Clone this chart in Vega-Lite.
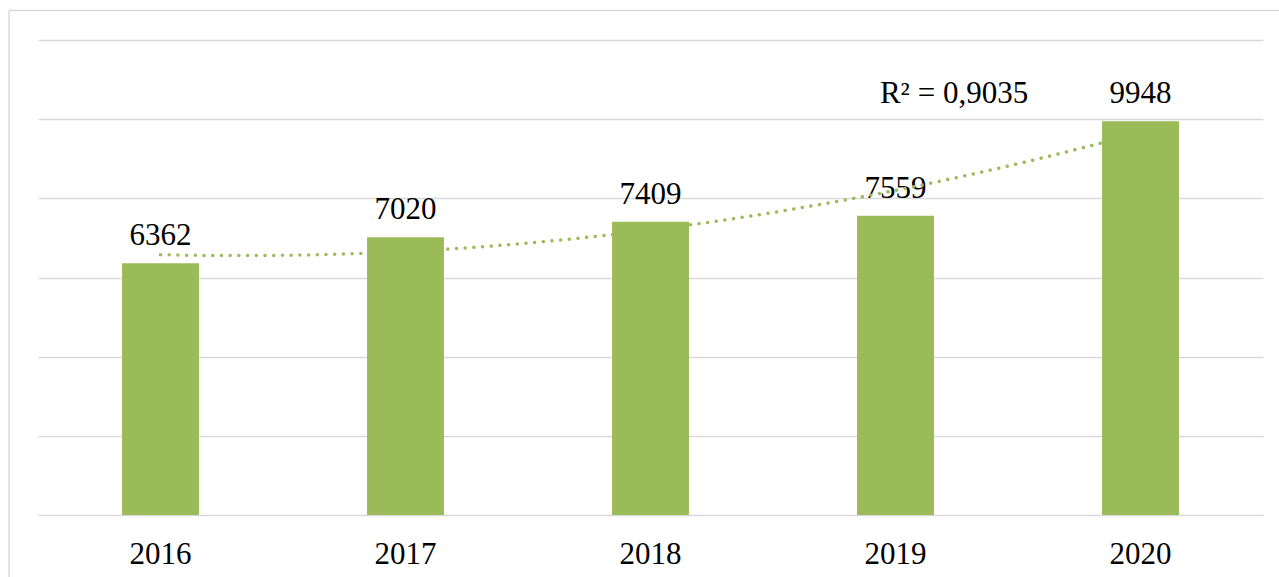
{
  "$schema": "https://vega.github.io/schema/vega-lite/v6.json",
  "width": 1225,
  "height": 475,
  "autosize": {"type": "none"},
  "padding": {"left": 38, "top": 40, "right": 16, "bottom": 62},
  "background": "white",
  "config": {
    "view": {"stroke": null},
    "font": "Liberation Serif"
  },
  "data": {
    "values": [
      {"year": 2016, "value": 6362},
      {"year": 2017, "value": 7020},
      {"year": 2018, "value": 7409},
      {"year": 2019, "value": 7559},
      {"year": 2020, "value": 9948}
    ]
  },
  "layer": [
    {
      "encoding": {
        "x": {
          "field": "year", "type": "ordinal",
          "scale": {"paddingInner": 0.686, "paddingOuter": 0.343},
          "axis": {
            "title": null, "ticks": false, "tickSize": 0, "domain": false,
            "labelFont": "Liberation Serif", "labelFontSize": 31, "labelColor": "#000000",
            "labelBaseline": "alphabetic", "labelPadding": 48, "labelAngle": 0
          }
        },
        "y": {
          "field": "value", "type": "quantitative",
          "scale": {"domain": [0, 12000], "nice": false},
          "axis": {
            "title": null, "labels": false, "ticks": false, "domain": false,
            "values": [0, 2000, 4000, 6000, 8000, 10000, 12000],
            "grid": true, "gridColor": "#D9D9D9", "gridWidth": 1.7
          }
        }
      },
      "layer": [
        {"mark": {"type": "bar", "color": "#9BBB59"}},
        {
          "mark": {"type": "text", "font": "Liberation Serif", "fontSize": 31, "color": "#000000", "baseline": "alphabetic", "align": "center", "dy": -18},
          "encoding": {
            "text": {"field": "value", "type": "quantitative", "format": "d"}
          }
        }
      ]
    },
    {
      "transform": [
        {"regression": "value", "on": "year", "method": "poly", "order": 2}
      ],
      "mark": {"type": "line", "color": "#9BBB59", "strokeWidth": 3.5, "strokeCap": "round", "strokeDash": [0.01, 8.7]},
      "encoding": {
        "x": {"field": "year", "type": "quantitative", "scale": {"domain": [2015.5, 2020.5], "nice": false, "zero": false}, "axis": null},
        "y": {"field": "value", "type": "quantitative"}
      }
    },
    {
      "data": {"values": [{"label": "R² = 0,9035"}]},
      "mark": {"type": "text", "font": "Liberation Serif", "fontSize": 31, "color": "#000000", "baseline": "alphabetic", "align": "center"},
      "encoding": {
        "text": {"field": "label", "type": "nominal"},
        "x": {"datum": 2019.239, "type": "quantitative", "scale": {"domain": [2015.5, 2020.5], "nice": false, "zero": false}, "axis": null},
        "y": {"datum": 10408, "type": "quantitative"}
      }
    },
    {
      "data": {"values": [{}]},
      "mark": {"type": "rule", "color": "#D9D9D9", "strokeWidth": 1.5, "clip": false},
      "encoding": {
        "x": {"datum": 2015.382, "type": "quantitative", "scale": {"domain": [2015.5, 2020.5], "nice": false, "zero": false}, "axis": null},
        "x2": {"datum": 2021.2},
        "y": {"datum": 12745, "type": "quantitative"}
      }
    },
    {
      "data": {"values": [{}]},
      "mark": {"type": "rule", "color": "#D9D9D9", "strokeWidth": 1.5, "clip": false},
      "encoding": {
        "x": {"datum": 2015.382, "type": "quantitative", "scale": {"domain": [2015.5, 2020.5], "nice": false, "zero": false}, "axis": null},
        "y": {"datum": 12745, "type": "quantitative"},
        "y2": {"datum": -3000}
      }
    }
  ],
  "resolve": {"scale": {"x": "independent"}}
}
